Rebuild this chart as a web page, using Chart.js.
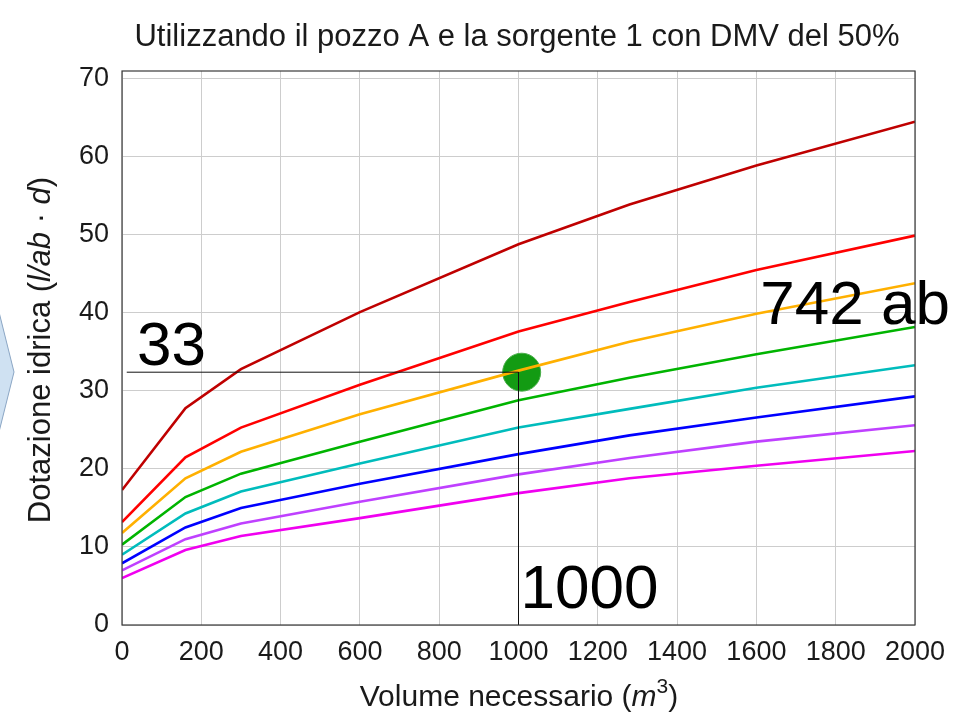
<!DOCTYPE html>
<html>
<head>
<meta charset="utf-8">
<script src="https://cdn.jsdelivr.net/npm/chart.js@4.4.1/dist/chart.umd.min.js"></script>
<style>
  html, body { margin: 0; padding: 0; background: #ffffff; }
  #wrap { position: relative; width: 960px; height: 720px; }
  #deco { position: absolute; left: 0; top: 0; }
</style>
</head>
<body>
<div id="wrap">
  <canvas id="c" width="960" height="720"></canvas>
  <svg id="deco" width="20" height="720"><polygon points="-2,308 14,372 -2,436" fill="#cfe1f2" stroke="#8ba6c4" stroke-width="1"/></svg>
</div>
<script>
// ---- data ----
const titleText = "Utilizzando il pozzo A e la sorgente 1 con DMV del 50%";
const xValues = [0, 160, 300, 600, 1000, 1280, 1600, 2000];
const darkRed = [17.3, 27.8, 32.8, 40.1, 48.8, 53.9, 58.9, 64.5];
const red     = [13.2, 21.5, 25.3, 30.8, 37.6, 41.4, 45.5, 49.9];
const orange  = [11.8, 18.8, 22.2, 27.0, 32.6, 36.3, 39.9, 43.8];
const green   = [10.3, 16.4, 19.4, 23.5, 28.8, 31.7, 34.7, 38.2];
const cyan    = [9.0, 14.3, 17.1, 20.7, 25.3, 27.7, 30.4, 33.3];
const blue    = [7.9, 12.5, 15.0, 18.1, 21.9, 24.3, 26.6, 29.3];
const violet  = [7.0, 11.0, 13.0, 15.8, 19.3, 21.4, 23.5, 25.6];
const magenta = [6.0, 9.6, 11.4, 13.7, 16.9, 18.8, 20.4, 22.3];
const markerPoint = { x: 1008, y: 32.4 };
const guideX = 1000;
const guideY = 32.4;
const guideStartX = 12;
const xTicks = [0, 200, 400, 600, 800, 1000, 1200, 1400, 1600, 1800, 2000];
const yTicks = [0, 10, 20, 30, 40, 50, 60, 70];
const labelY = "33";
const labelX = "1000";
const labelCurve = "742 ab";

const seriesList = [
  { data: darkRed, color: '#bf0000' },
  { data: red,     color: '#ff0000' },
  { data: orange,  color: '#ffb000' },
  { data: green,   color: '#00b400' },
  { data: cyan,    color: '#00bcbc' },
  { data: blue,    color: '#0000ff' },
  { data: violet,  color: '#bf40ff' },
  { data: magenta, color: '#f000f0' }
];

const toPts = arr => arr.map((v, i) => ({ x: xValues[i], y: v }));

const datasets = [
  { data: [{ x: guideStartX, y: guideY }, { x: guideX, y: guideY }], borderColor: '#111', borderWidth: 1, pointRadius: 0 },
  { data: [{ x: guideX, y: guideY }, { x: guideX, y: 0 }], borderColor: '#111', borderWidth: 1, pointRadius: 0 }
];
seriesList.forEach(s => datasets.push({ data: toPts(s.data), borderColor: s.color, borderWidth: 2.6, pointRadius: 0, tension: 0 }));
datasets.push({ data: [markerPoint], showLine: false, pointRadius: 19, pointBackgroundColor: '#139b13', pointBorderColor: '#49ad49', pointBorderWidth: 1 });

const FONT = '"Liberation Sans", Arial, sans-serif';

function drawRich(ctx, segs, size) {
  let total = 0;
  const parts = segs.map(s => {
    const sz = s.sup ? Math.round(size * 0.7) : size;
    ctx.font = (s.italic ? 'italic ' : '') + sz + 'px ' + FONT;
    const w = ctx.measureText(s.t).width;
    total += w;
    return { s, sz, w };
  });
  let x = -total / 2;
  parts.forEach(p => {
    ctx.font = (p.s.italic ? 'italic ' : '') + p.sz + 'px ' + FONT;
    ctx.fillText(p.s.t, x, p.s.sup ? -size * 0.42 : 0);
    x += p.w;
  });
}

const decorPlugin = {
  id: 'decor',
  afterDraw(chart) {
    const ctx = chart.ctx;
    const a = chart.chartArea;
    const xs = chart.scales.x, ys = chart.scales.y;
    ctx.save();
    // frame
    ctx.strokeStyle = '#3a3a3a';
    ctx.lineWidth = 1.2;
    ctx.strokeRect(a.left, a.top, a.right - a.left, a.bottom - a.top);
    // title
    ctx.fillStyle = '#1a1a1a';
    ctx.textBaseline = 'alphabetic';
    ctx.textAlign = 'left';
    ctx.save();
    ctx.translate(517, 46);
    drawRich(ctx, [{ t: titleText }], 31);
    ctx.restore();
    // x title
    ctx.save();
    ctx.translate(519, 706);
    drawRich(ctx, [{ t: 'Volume necessario (' }, { t: 'm', italic: true }, { t: '3', sup: true }, { t: ')' }], 30);
    ctx.restore();
    // y title
    ctx.save();
    ctx.translate(50, 350);
    ctx.rotate(-Math.PI / 2);
    drawRich(ctx, [{ t: 'Dotazione idrica (' }, { t: 'l/ab', italic: true }, { t: ' · ' }, { t: 'd', italic: true }, { t: ')' }], 31);
    ctx.restore();
    // big annotation labels
    ctx.fillStyle = '#000';
    ctx.font = '62px ' + FONT;
    ctx.textAlign = 'left';
    ctx.fillText(labelY, a.left + 15, ys.getPixelForValue(guideY) - 7);
    ctx.fillText(labelX, xs.getPixelForValue(guideX) + 2, a.bottom - 17);
    ctx.fillText(labelCurve, xs.getPixelForValue(1610), ys.getPixelForValue(38.6));
    ctx.restore();
  }
};

new Chart(document.getElementById('c'), {
  type: 'line',
  data: { datasets },
  options: {
    responsive: false,
    animation: false,
    devicePixelRatio: 1,
    layout: { padding: { left: 0, right: 45, top: 71, bottom: 0 } },
    plugins: { legend: { display: false }, tooltip: { enabled: false }, title: { display: false } },
    scales: {
      x: {
        type: 'linear', min: 0, max: 2000,
        afterBuildTicks: s => { s.ticks = xTicks.map(v => ({ value: v })); },
        afterFit: s => { s.height = 95; },
        grid: { color: '#cdcdcd', lineWidth: 1, drawTicks: false },
        border: { display: false },
        ticks: { padding: 11, font: { family: FONT, size: 27 }, color: '#1a1a1a', maxRotation: 0, autoSkip: false, callback: v => String(v) }
      },
      y: {
        type: 'linear', min: 0, max: 71,
        afterBuildTicks: s => { s.ticks = yTicks.map(v => ({ value: v })); },
        afterFit: s => { s.width = 122; },
        grid: { color: '#cdcdcd', lineWidth: 1, drawTicks: false },
        border: { display: false },
        ticks: { padding: 13, font: { family: FONT, size: 27 }, color: '#1a1a1a', callback: v => String(v) }
      }
    }
  },
  plugins: [decorPlugin]
});
</script>
</body>
</html>
